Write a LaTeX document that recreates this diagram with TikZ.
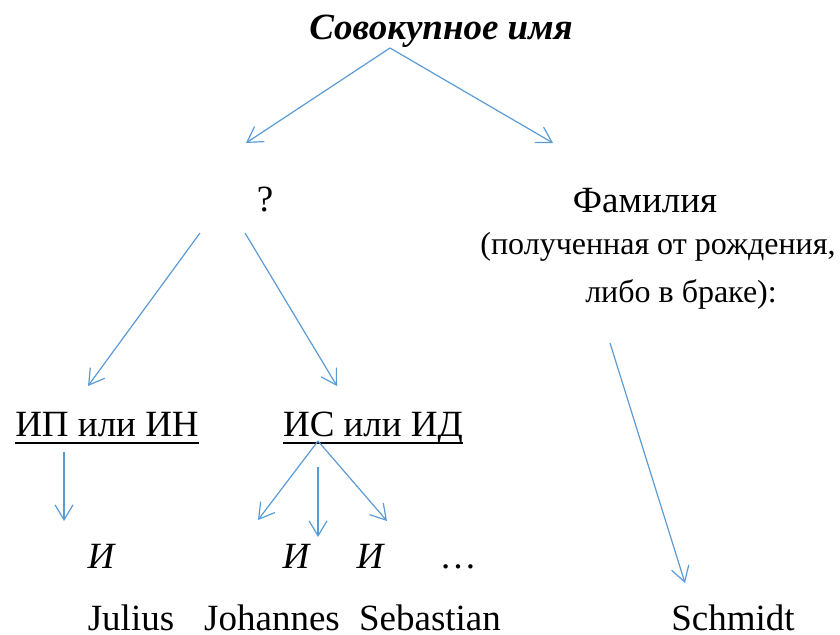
\documentclass[tikz,border=0pt]{standalone}
\usepackage{fontspec}
\setmainfont{Liberation Serif}
\usetikzlibrary{arrows.meta}
\tikzset{
  txt/.style={anchor=base, inner sep=0pt, font=\fontsize{18.5}{22}\selectfont},
  smalltxt/.style={txt, font=\fontsize{16}{19}\selectfont},
  link/.style={draw={rgb,255:red,91;green,155;blue,213}, line width=0.6pt,
    -{Straight Barb[length=7.5pt,width=9pt]}},
  uline/.style={line width=1.3pt}
}
\begin{document}
\begin{tikzpicture}[x=0.5pt, y=-0.5pt]
    \useasboundingbox (0,0) rectangle (840,635);

    % Top level
    \node[txt, font=\fontsize{18.5}{22}\selectfont\bfseries\itshape] (total) at (441,40) {Совокупное имя};
    \node[txt] (qmark) at (265,212) {?};
    \node[txt] (surname) at (645,213) {Фамилия};
    \node[smalltxt] (note1) at (658,255) {(полученная от рождения,};
    \node[smalltxt] (note2) at (681,303) {либо в браке):};

    % Middle level
    \node[txt] (ipin) at (107,437) {ИП или ИН};
    \node[txt] (isid) at (373,437) {ИС или ИД};
    \draw[uline] ([yshift=-3pt]ipin.base west) -- ([yshift=-3pt]ipin.base east);
    \draw[uline] ([yshift=-3pt]isid.base west) -- ([yshift=-3pt]isid.base east);

    % Bottom level
    \node[txt, font=\fontsize{18.5}{22}\selectfont\itshape] (i1) at (101,568) {И};
    \node[txt, font=\fontsize{18.5}{22}\selectfont\itshape] (i2) at (296,568) {И};
    \node[txt, font=\fontsize{18.5}{22}\selectfont\itshape] (i3) at (370,568) {И};
    \node[txt] (dots) at (458,568) {…};
    \node[txt] (julius) at (131,630) {Julius};
    \node[txt] (johannes) at (272,630) {Johannes};
    \node[txt] (sebastian) at (430,630) {Sebastian};
    \node[txt] (schmidt) at (733,630) {Schmidt};

    % Arrow ends
    \coordinate (top) at (390,48);
    \coordinate (qin) at (246,143);
    \coordinate (sin) at (553,143);
    \coordinate (qoutl) at (200,233);
    \coordinate (qoutr) at (245,233);
    \coordinate (ipinin) at (88,386);
    \coordinate (isidin) at (337,386);
    \coordinate (ipinout) at (64,452);
    \coordinate (i1in) at (64,521);
    \coordinate (isidout) at (318,441);
    \coordinate (isidmid) at (318,467);
    \coordinate (i2inl) at (258,520);
    \coordinate (i2in) at (318,537);
    \coordinate (i3in) at (387,521);
    \coordinate (noteout) at (610,343);
    \coordinate (schmidtin) at (685,583);

    % Arrows
    \draw[link] (top) -- (qin);
    \draw[link] (top) -- (sin);
    \draw[link] (qoutl) -- (ipinin);
    \draw[link] (qoutr) -- (isidin);
    \draw[link] (ipinout) -- (i1in);
    \draw[link] (isidout) -- (i2inl);
    \draw[link] (isidmid) -- (i2in);
    \draw[link] (isidout) -- (i3in);
    \draw[link] (noteout) -- (schmidtin);
\end{tikzpicture}
\end{document}
